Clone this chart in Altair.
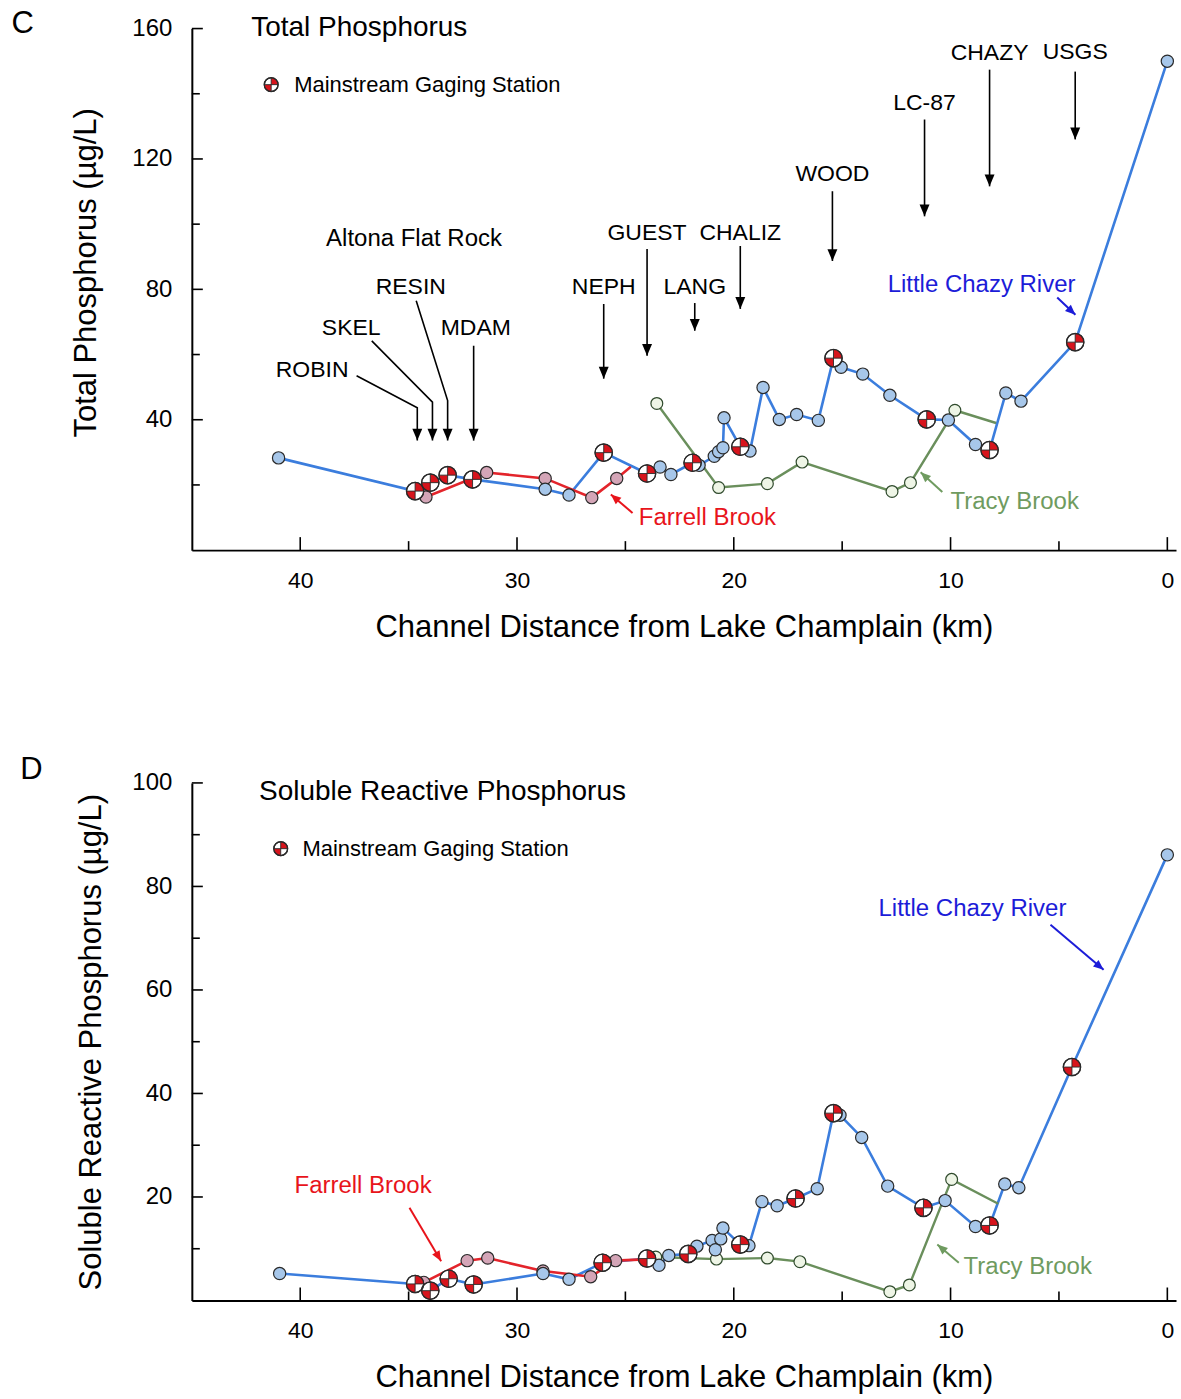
import altair as alt
import pandas as pd

FONT = "Liberation Sans"
W = 985
H_TP = 522
H_SRP = 518
X_DOMAIN = [45, -0.4]

BLUE_LINE = "#3b7ddd"
BLUE_FILL = "#a7c7ea"
RED_LINE = "#e3242b"
PINK_FILL = "#d4a5b7"
GREEN_LINE = "#6a8f5c"
GREEN_FILL = "#eef5e6"
MARK_STROKE = "#2a2a2a"
GAGE_RED = "#d7141c"
BLUE_TEXT = "#1c1cd8"
RED_TEXT = "#e8141b"
GREEN_TEXT = "#6f9b60"

# ---------------- Total phosphorus (ug/L) ----------------
tp_main_km = [41.0, 34.7, 34.0, 33.2, 32.05, 28.7, 27.6, 26.0, 24.0, 23.4,
              22.9, 21.9, 21.6, 20.9, 20.7, 20.5, 20.45, 19.7, 19.25, 18.65,
              17.9, 17.1, 16.1, 15.4, 15.05, 14.05, 12.8, 11.1, 10.1, 8.85,
              8.2, 7.45, 6.75, 4.25, 0.0]
tp_main_val = [28.3, 18.1, 20.7, 23.0, 21.7, 18.7, 16.9, 29.9, 23.5, 25.5,
               23.2, 26.8, 26.0, 28.8, 30.2, 31.4, 40.6, 31.7, 30.4, 49.9,
               40.1, 41.6, 39.8, 58.9, 56.1, 54.0, 47.5, 40.1, 39.9, 32.4,
               30.7, 48.2, 45.7, 63.8, 150.0]
tp_main_gage = [0, 1, 1, 1, 1, 0, 0, 1, 1, 0,
                0, 1, 0, 0, 0, 0, 0, 1, 0, 0,
                0, 0, 0, 1, 0, 0, 0, 1, 0, 0,
                1, 0, 0, 1, 0]

tp_farrell_km = [34.2, 31.4, 28.7, 26.55, 25.4, 24.75]
tp_farrell_val = [16.3, 23.8, 22.0, 16.1, 22.0, 25.6]
tp_farrell_node = [1, 1, 1, 1, 1, 0]

tp_tracy_km = [23.55, 20.7, 18.45, 16.85, 12.7, 11.85, 9.8, 7.9]
tp_tracy_val = [45.0, 19.2, 20.4, 27.0, 18.0, 20.7, 42.9, 39.0]
tp_tracy_node = [1, 1, 1, 1, 1, 1, 1, 0]

# ---------------- Soluble reactive phosphorus (ug/L) ----------------
srp_main_km = [40.95, 34.7, 34.0, 33.15, 32.0, 28.8, 27.6, 26.05, 24.0, 23.45,
               23.0, 22.1, 21.7, 21.0, 20.85, 20.6, 20.5, 19.7, 19.3, 18.7,
               18.0, 17.15, 16.15, 15.4, 15.1, 14.1, 12.9, 11.25, 10.25, 8.85,
               8.2, 7.5, 6.85, 4.4, 0.0]
srp_main_val = [5.2, 3.2, 1.9, 4.2, 3.1, 5.2, 4.1, 7.3, 8.1, 6.8,
                8.7, 9.0, 10.5, 11.6, 9.8, 11.9, 14.0, 10.8, 10.6, 19.1,
                18.3, 19.7, 21.6, 36.2, 35.8, 31.5, 22.1, 17.9, 19.3, 14.3,
                14.5, 22.5, 21.8, 45.1, 86.1]
srp_main_gage = [0, 1, 1, 1, 1, 0, 0, 1, 1, 0,
                 0, 1, 0, 0, 0, 0, 0, 1, 0, 0,
                 0, 1, 0, 1, 0, 0, 0, 1, 0, 0,
                 1, 0, 0, 1, 0]

srp_farrell_km = [34.3, 32.3, 31.35, 28.8, 26.6, 25.45, 24.4]
srp_farrell_val = [3.5, 7.7, 8.2, 5.7, 4.6, 7.7, 7.9]
srp_farrell_node = [1, 1, 1, 1, 1, 1, 0]

srp_tracy_km = [23.6, 20.8, 18.45, 16.95, 12.8, 11.9, 9.95, 7.8]
srp_tracy_val = [8.4, 8.0, 8.2, 7.5, 1.7, 3.0, 23.4, 18.7]
srp_tracy_node = [1, 1, 1, 1, 1, 1, 1, 0]

# ---------------- Annotations (channel km, concentration) ----------------
tp_station_names = ["ROBIN", "SKEL", "RESIN", "MDAM", "NEPH", "GUEST",
                    "LANG", "CHALIZ", "WOOD", "LC-87", "CHAZY", "USGS"]
tp_station_text_km = [39.45, 37.65, 34.9, 31.9, 26.0, 24.0, 21.8, 19.7, 15.45, 11.2, 8.2, 4.25]
tp_station_text_val = [55.4, 68.2, 80.7, 68.2, 80.7, 97.2, 80.7, 97.2, 115.3, 137.3, 152.6, 152.9]
tp_leaders = [
    [(37.4, 53.5), (34.6, 43.7), (34.6, 33.6)],
    [(36.7, 64.2), (33.9, 45.4), (33.9, 33.6)],
    [(34.65, 76.5), (33.2, 45.9), (33.2, 33.6)],
    [(32.0, 62.7), (32.0, 33.6)],
    [(26.0, 75.5), (26.0, 52.6)],
    [(24.0, 92.4), (24.0, 59.6)],
    [(21.8, 75.8), (21.8, 67.3)],
    [(19.7, 93.3), (19.7, 74.0)],
    [(15.45, 110.1), (15.45, 88.7)],
    [(11.2, 132.1), (11.2, 102.4)],
    [(8.2, 147.4), (8.2, 111.6)],
    [(4.25, 146.8), (4.25, 126.0)],
]
tp_group_label_km = [34.75]
tp_group_label_val = [95.4]
tp_group_label_text = ["Altona Flat Rock"]

tp_notes = {
    "letter": ("C", 52.8, 161.5),
    "title": ("Total Phosphorus", 42.26, 160.2),
    "legend": ("Mainstream Gaging Station", 41.34, 40.28, 142.8),
    "river": ("Little Chazy River", "center", 8.57, 81.3, [(5.08, 77.5), (4.24, 72.2)], 313),
    "farrell": ("Farrell Brook", "left", 24.38, 9.8, [(24.67, 11.4), (25.67, 17.1)], 131),
    "tracy": ("Tracy Brook", "left", 10.0, 14.7, [(10.38, 17.8), (11.38, 23.9)], 133),
}
srp_notes = {
    "letter": ("D", 52.4, 102.5),
    "title": ("Soluble Reactive Phosphorus", 41.9, 98.3),
    "legend": ("Mainstream Gaging Station", 40.9, 39.9, 87.3),
    "river": ("Little Chazy River", "center", 8.99, 75.7, [(5.39, 72.6), (2.94, 63.9)], 310),
    "farrell": ("Farrell Brook", "center", 37.1, 22.2, [(34.96, 17.9), (33.5, 7.6)], 329),
    "tracy": ("Tracy Brook", "left", 9.4, 6.4, [(9.62, 7.3), (10.61, 10.8)], 130),
}

ARROW_TIP = "M-0.42,-1L0.42,-1L0,0Z"
QUADRANTS = "M0,0L0,-1A1,1,0,0,1,1,0ZM0,0L0,1A1,1,0,0,1,-1,0Z"
CROSS = "M-1,0L1,0M0,-1L0,1"


def series(km, val, flags=None):
    return pd.DataFrame({
        "km": km, "val": val, "seq": list(range(len(km))),
        "flag": flags if flags is not None else [1] * len(km),
    })


def paths(segments):
    rows = []
    for g, seg in enumerate(segments):
        for i, (k, v) in enumerate(seg):
            rows.append({"grp": g, "seq": i, "km": k, "val": v})
    return pd.DataFrame(rows)


def one(km, val, text=None):
    d = {"km": [km], "val": [val]}
    if text is not None:
        d["t"] = [text]
    return pd.DataFrame(d)


def panel(height, ymax, ymajor, yminor, ytitle, title_y, title_pad, main, farrell, tracy,
          notes, station_names=None, station_km=None, station_val=None,
          leaders=None, group_km=None, group_val=None, group_text=None):
    xs = alt.Scale(domain=X_DOMAIN, nice=False, zero=False)
    ys = alt.Scale(domain=[0, ymax], nice=False, zero=False)

    x_axis = alt.Axis(values=[40, 30, 20, 10, 0], ticks=False, grid=False, labelFlush=False,
                      domainColor="black", domainWidth=2, labelColor="black",
                      labelFont=FONT, labelFontSize=23, labelPadding=19,
                      title="Channel Distance from Lake Champlain (km)", titleFont=FONT,
                      titleFontSize=31, titleFontWeight="normal", titleColor="black",
                      titlePadding=20)
    y_axis_kw = dict(values=ymajor, ticks=False, grid=False, domainColor="black", domainWidth=2,
                     labelColor="black", labelFont=FONT, labelFontSize=24, labelPadding=20,
                     title=ytitle, titleFont=FONT, titleFontSize=31, titleFontWeight="normal",
                     titleColor="black", titlePadding=title_pad)
    if title_y is not None:
        y_axis_kw["titleY"] = title_y
    y_axis = alt.Axis(**y_axis_kw)

    # every layer shares the same field names, scales and axis definitions
    X = alt.X("km:Q", scale=xs, axis=x_axis)
    Y = alt.Y("val:Q", scale=ys, axis=y_axis)

    main_df = series(*main)
    far_df = series(*farrell)
    tra_df = series(*tracy)

    def gage_layers(df, size):
        return [
            alt.Chart(df).mark_point(shape="circle", filled=True, fill="white", opacity=1,
                                     stroke=MARK_STROKE, strokeWidth=1.2, size=size).encode(x=X, y=Y),
            alt.Chart(df).mark_point(shape=QUADRANTS, filled=True, fill=GAGE_RED, opacity=1,
                                     strokeWidth=0, size=size).encode(x=X, y=Y),
            alt.Chart(df).mark_point(shape=CROSS, filled=False, stroke=MARK_STROKE, opacity=1,
                                     strokeWidth=0.9, size=size).encode(x=X, y=Y),
            alt.Chart(df).mark_point(shape="circle", filled=False, stroke=MARK_STROKE, opacity=1,
                                     strokeWidth=1.3, size=size).encode(x=X, y=Y),
        ]

    layers = []
    layers.append(alt.Chart(main_df).mark_line(color=BLUE_LINE, strokeWidth=2.6).encode(
        x=X, y=Y, order="seq:Q"))
    layers.append(alt.Chart(far_df).mark_line(color=RED_LINE, strokeWidth=2.6).encode(
        x=X, y=Y, order="seq:Q"))
    layers.append(alt.Chart(tra_df).mark_line(color=GREEN_LINE, strokeWidth=2.4).encode(
        x=X, y=Y, order="seq:Q"))

    # inward tick marks
    ymaj = pd.DataFrame({"val": ymajor})
    ymin = pd.DataFrame({"val": yminor})
    layers.append(alt.Chart(ymaj).mark_rule(color="black", strokeWidth=1.6).encode(
        y=Y, x=alt.value(0), x2=alt.value(11)))
    layers.append(alt.Chart(ymin).mark_rule(color="black", strokeWidth=1.6).encode(
        y=Y, x=alt.value(0), x2=alt.value(8)))
    xmaj = pd.DataFrame({"km": [40, 30, 20, 10, 0]})
    xmin = pd.DataFrame({"km": [35, 25, 15, 5]})
    layers.append(alt.Chart(xmaj).mark_rule(color="black", strokeWidth=1.6).encode(
        x=X, y=alt.value(height), y2=alt.value(height - 13)))
    layers.append(alt.Chart(xmin).mark_rule(color="black", strokeWidth=1.6).encode(
        x=X, y=alt.value(height), y2=alt.value(height - 9)))

    # sampling points
    layers.append(alt.Chart(far_df).transform_filter("datum.flag == 1").mark_point(
        shape="circle", filled=True, fill=PINK_FILL, stroke=MARK_STROKE, strokeWidth=1.2,
        opacity=1, size=150).encode(x=X, y=Y))
    layers.append(alt.Chart(tra_df).transform_filter("datum.flag == 1").mark_point(
        shape="circle", filled=True, fill=GREEN_FILL, stroke="#2f4a2c", strokeWidth=1.2,
        opacity=1, size=140).encode(x=X, y=Y))
    layers.append(alt.Chart(main_df).transform_filter("datum.flag == 0").mark_point(
        shape="circle", filled=True, fill=BLUE_FILL, stroke=MARK_STROKE, strokeWidth=1.2,
        opacity=1, size=150).encode(x=X, y=Y))
    layers += gage_layers(main_df[main_df["flag"] == 1], 300)

    # legend symbol
    lg_text, lg_km, lg_text_km, lg_val = notes["legend"]
    layers += gage_layers(one(lg_km, lg_val), 190)
    layers.append(alt.Chart(one(lg_text_km, lg_val, lg_text))
                  .mark_text(align="left", baseline="middle", font=FONT, fontSize=22, color="black")
                  .encode(x=X, y=Y, text="t:N"))

    # panel letter and panel title
    letter, l_km, l_val = notes["letter"]
    layers.append(alt.Chart(one(l_km, l_val, letter))
                  .mark_text(align="center", baseline="middle", font=FONT, fontSize=31, color="black")
                  .encode(x=X, y=Y, text="t:N"))
    ttl, t_km, t_val = notes["title"]
    layers.append(alt.Chart(one(t_km, t_val, ttl))
                  .mark_text(align="left", baseline="middle", font=FONT, fontSize=28, color="black")
                  .encode(x=X, y=Y, text="t:N"))

    # station labels with leader arrows
    if station_names:
        layers.append(alt.Chart(pd.DataFrame({"km": station_km, "val": station_val, "t": station_names}))
                      .mark_text(align="center", baseline="middle", font=FONT, fontSize=23, color="black")
                      .encode(x=X, y=Y, text="t:N"))
        layers.append(alt.Chart(pd.DataFrame({"km": group_km, "val": group_val, "t": group_text}))
                      .mark_text(align="center", baseline="middle", font=FONT, fontSize=24, color="black")
                      .encode(x=X, y=Y, text="t:N"))
        layers.append(alt.Chart(paths(leaders)).mark_line(color="black", strokeWidth=1.6).encode(
            x=X, y=Y, detail="grp:N", order="seq:Q"))
        tips = pd.DataFrame({"km": [seg[-1][0] for seg in leaders],
                             "val": [seg[-1][1] for seg in leaders]})
        layers.append(alt.Chart(tips).mark_point(shape=ARROW_TIP, filled=True, fill="black",
                                                 opacity=1, strokeWidth=0, size=560)
                      .encode(x=X, y=Y))

    # stream name labels with coloured pointers
    for key, col in (("river", BLUE_TEXT), ("farrell", RED_TEXT), ("tracy", GREEN_TEXT)):
        name, align, n_km, n_val, arrow, ang = notes[key]
        layers.append(alt.Chart(one(n_km, n_val, name))
                      .mark_text(align=align, baseline="middle", font=FONT, fontSize=24, color=col)
                      .encode(x=X, y=Y, text="t:N"))
        layers.append(alt.Chart(paths([arrow])).mark_line(color=col, strokeWidth=2).encode(
            x=X, y=Y, order="seq:Q"))
        layers.append(alt.Chart(one(*arrow[-1]))
                      .mark_point(shape=ARROW_TIP, filled=True, fill=col, opacity=1,
                                  strokeWidth=0, size=420, angle=ang)
                      .encode(x=X, y=Y))

    return alt.layer(*layers).properties(width=W, height=height)


top = panel(H_TP, 160, [40, 80, 120, 160], [20, 60, 100, 140], "Total Phosphorus (µg/L)", 244, 29,
            (tp_main_km, tp_main_val, tp_main_gage),
            (tp_farrell_km, tp_farrell_val, tp_farrell_node),
            (tp_tracy_km, tp_tracy_val, tp_tracy_node),
            tp_notes, tp_station_names, tp_station_text_km, tp_station_text_val,
            tp_leaders, tp_group_label_km, tp_group_label_val, tp_group_label_text)

bottom = panel(H_SRP, 100, [20, 40, 60, 80, 100], [10, 30, 50, 70, 90],
               "Soluble Reactive Phosphorus (µg/L)", None, 24,
               (srp_main_km, srp_main_val, srp_main_gage),
               (srp_farrell_km, srp_farrell_val, srp_farrell_node),
               (srp_tracy_km, srp_tracy_val, srp_tracy_node),
               srp_notes)

chart = alt.vconcat(top, bottom, spacing=112).properties(
    padding={"left": 11, "top": 7, "right": 5, "bottom": 5},
    background="white",
).configure_view(strokeWidth=0)

chart.save("out.html", embed_options={"renderer": "svg", "actions": False})
